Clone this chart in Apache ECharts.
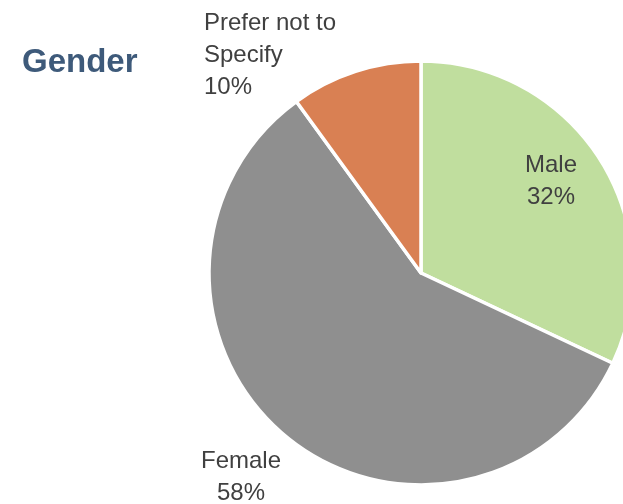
<!DOCTYPE html>
<html>
<head>
<meta charset="utf-8">
<script src="https://cdn.jsdelivr.net/npm/echarts@6/dist/echarts.min.js"></script>
<style>
  html, body { margin: 0; padding: 0; background: #fff; }
  #main { width: 623px; height: 504px; }
</style>
</head>
<body>
<div id="main"></div>
<script>
var categories = ['Male', 'Female', 'Prefer not to\nSpecify'];
var values = [32, 58, 10];
var colors = ['#c0de9e', '#8f8f8f', '#d98053'];
var labelPlaces = ['inside', 'outside', 'outside'];

// where each label sits (x, y, align)
var labelSpots = [
  { x: 551, y: 181, align: 'center' },
  { x: 241, y: 477, align: 'center' },
  { x: 204, y: 55, align: 'left' }
];

var myChart = echarts.init(document.getElementById('main'));

var data = categories.map(function (name, i) {
  return {
    name: name,
    value: values[i],
    itemStyle: { color: colors[i] },
    label: { position: labelPlaces[i] }
  };
});

var option = {
  animation: false,
  title: {
    text: 'Gender',
    left: 17,
    top: 41,
    textStyle: {
      fontFamily: 'Liberation Sans',
      fontWeight: 'bold',
      fontSize: 33,
      color: '#3e5a7a'
    }
  },
  series: [
    {
      type: 'pie',
      center: [421, 273],
      radius: 212,
      startAngle: 90,
      clockwise: true,
      itemStyle: { borderColor: '#fff', borderWidth: 3.5 },
      label: {
        show: true,
        position: 'outside',
        formatter: '{b}\n{d}%',
        fontFamily: 'Liberation Sans',
        fontSize: 24,
        lineHeight: 32,
        color: '#404040'
      },
      labelLine: { show: false },
      labelLayout: function (params) {
        var s = labelSpots[params.dataIndex];
        return { x: s.x, y: s.y, align: s.align, verticalAlign: 'middle' };
      },
      emphasis: { disabled: true },
      data: data
    }
  ]
};

option && myChart.setOption(option);
</script>
</body>
</html>
